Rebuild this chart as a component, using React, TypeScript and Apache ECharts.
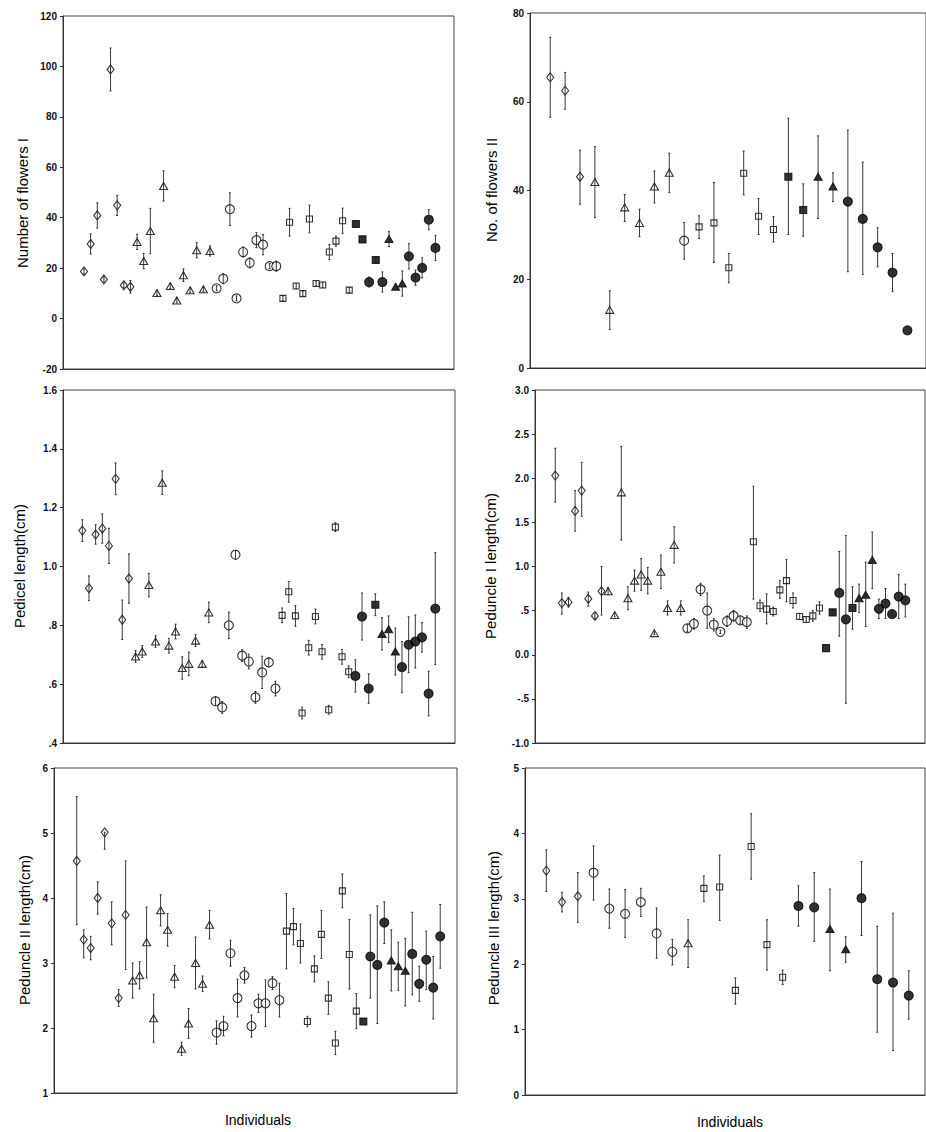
import React, { useEffect, useRef } from "react";
import * as echarts from "echarts";

// Marker codes: D open diamond, T open triangle, C open circle, S open square,
// s filled square, t filled triangle, c filled circle

// Panel 1: Number of flowers I
const p1Mean = [18.7, 29.6, 40.9, 15.5, 98.8, 44.9, 13.2, 12.6,
  30.4, 22.8, 34.7, 10.1, 52.6, 12.9, 7.2, 17.2, 11.2, 27.1, 11.6, 26.8,
  12.0, 15.8, 43.4, 8.0, 26.4, 22.1, 31.1, 29.3, 20.8, 20.8,
  8.0, 38.2, 12.9, 9.9, 39.5, 13.9, 13.3, 26.4, 30.7, 38.8, 11.3,
  37.5, 31.4, 14.5, 23.2, 14.5, 31.6, 12.6, 13.9, 24.7, 16.2, 20.1, 39.2, 28.0];
const p1Err = [1, 4, 5, 1, 8.5, 4, 1, 2.5,
  3, 3, 9, 1, 6, 1, 1, 2.5, 1, 3, 1, 2,
  1, 2, 6.5, 1, 2, 2, 3, 4, 1, 2,
  1, 5.5, 1, 1, 5.5, 1, 1, 3, 2, 5, 1,
  1, 1, 2, 1, 4, 3, 1, 5, 5, 3, 4, 4, 5];
const p1Type = "DDDDDDDDTTTTTTTTTTTTCCCCCCCCCCSSSSSSSSSSSsscsctttccccc";

// Panel 2: No. of flowers II
const p2Mean = [65.5, 62.5, 43.1, 41.9, 13.1, 36.2, 32.7, 40.9, 44.0, 28.7, 31.8, 32.7, 22.6,
  43.9, 34.2, 31.2, 43.1, 35.6, 43.1, 40.9, 37.5, 33.6, 27.2, 21.5, 8.5];
const p2Hi = [74.5, 66.6, 49.1, 49.9, 17.4, 39.1, 35.8, 44.4, 48.4, 32.8, 34.3, 41.8, 25.8,
  48.9, 38.2, 34.1, 56.3, 41.5, 52.3, 44.0, 53.6, 46.4, 31.6, 25.8, 8.5];
const p2Lo = [56.5, 58.3, 36.9, 33.9, 8.7, 33.0, 29.6, 37.2, 39.5, 24.5, 29.2, 23.8, 19.2,
  39.0, 30.1, 28.4, 30.1, 29.7, 33.7, 37.5, 21.7, 21.1, 22.8, 17.2, 8.5];
const p2Type = "DDDTTTTTTCSSSSSSssttccccc";

// Panel 3: Pedicel length (cm)
const p3Mean = [1.122, 0.926, 1.109, 1.129, 1.07, 1.298, 0.819, 0.959,
  0.694, 0.711, 0.937, 0.745, 1.285, 0.731, 0.779, 0.655, 0.669, 0.748, 0.669, 0.844,
  0.542, 0.521, 0.8, 1.04, 0.697, 0.677, 0.555, 0.64, 0.674, 0.585,
  0.834, 0.914, 0.832, 0.502, 0.724, 0.83, 0.71, 0.513, 1.134, 0.693, 0.642,
  0.628, 0.83, 0.585, 0.87, 0.771, 0.787, 0.711, 0.658, 0.734, 0.745, 0.759, 0.568, 0.857];
const p3Err = [0.037, 0.042, 0.033, 0.05, 0.06, 0.054, 0.067, 0.084,
  0.02, 0.02, 0.04, 0.02, 0.04, 0.025, 0.025, 0.038, 0.04, 0.02, 0.01, 0.035,
  0.015, 0.02, 0.045, 0.015, 0.02, 0.025, 0.02, 0.055, 0.015, 0.025,
  0.025, 0.035, 0.035, 0.02, 0.025, 0.025, 0.025, 0.015, 0.015, 0.025, 0.02,
  0.055, 0.08, 0.05, 0.037, 0.055, 0.045, 0.08, 0.087, 0.095, 0.09, 0.05, 0.076, 0.19];
const p3Type = "DDDDDDDDTTTTTTTTTTTTCCCCCCCCCCSSSSSSSSSSScccstttcccccc";

// Panel 4: Peduncle I length (cm)
const p4Mean = [2.03, 0.585, 0.596, 1.63, 1.86, 0.634, 0.44, 0.72,
  0.72, 0.45, 1.84, 0.64, 0.84, 0.91, 0.84, 0.245, 0.94, 0.53, 1.245, 0.53,
  0.3, 0.35, 0.74, 0.5, 0.34, 0.26, 0.38, 0.44, 0.39, 0.37,
  1.28, 0.555, 0.517, 0.49, 0.735, 0.84, 0.615, 0.434, 0.4, 0.44, 0.53,
  0.075, 0.48, 0.7, 0.4, 0.53, 0.64, 0.68, 1.075, 0.52, 0.58, 0.46, 0.66, 0.615];
const p4Hi = [2.34, 0.7, 0.65, 1.86, 2.18, 0.71, 0.47, 1.0,
  0.76, 0.47, 2.36, 0.77, 0.96, 1.09, 0.99, 0.26, 1.13, 0.61, 1.45, 0.61,
  0.34, 0.41, 0.81, 0.7, 0.41, 0.28, 0.44, 0.5, 0.43, 0.44,
  1.91, 0.62, 0.69, 0.54, 0.84, 1.08, 0.7, 0.47, 0.42, 0.5, 0.6,
  0.075, 0.5, 1.17, 1.35, 0.77, 0.8, 1.05, 1.39, 0.63, 0.75, 0.48, 0.91, 0.8];
const p4Lo = [1.73, 0.46, 0.54, 1.4, 1.57, 0.55, 0.41, 0.45,
  0.68, 0.43, 1.3, 0.51, 0.72, 0.73, 0.69, 0.23, 0.75, 0.45, 1.04, 0.45,
  0.26, 0.29, 0.67, 0.3, 0.27, 0.24, 0.32, 0.38, 0.35, 0.3,
  0.63, 0.49, 0.35, 0.44, 0.64, 0.6, 0.53, 0.4, 0.38, 0.38, 0.46,
  0.075, 0.46, 0.21, -0.55, 0.29, 0.48, 0.32, 0.75, 0.41, 0.41, 0.44, 0.41, 0.43];
const p4Type = "DDDDDDDDTTTTTTTTTTTTCCCCCCCCCCSSSSSSSSSSSsscc stttccccc".replace(" ", "");

// Panel 5: Peduncle II length (cm)
const p5Mean = [4.57, 3.36, 3.23, 4.0, 5.01, 3.61, 2.46, 3.74,
  2.73, 2.81, 3.32, 2.15, 3.81, 3.51, 2.79, 1.68, 2.07, 3.0, 2.68, 3.59,
  1.93, 2.03, 3.15, 2.46, 2.81, 2.03, 2.38, 2.38, 2.69, 2.43,
  3.49, 3.56, 3.3, 2.1, 2.91, 3.44, 2.46, 1.77, 4.11, 3.13, 2.26,
  2.1, 3.1, 2.97, 3.62, 3.04, 2.95, 2.88, 3.14, 2.68, 3.05, 2.62, 3.41];
const p5Hi = [5.56, 3.51, 3.41, 4.25, 5.01, 3.94, 2.59, 4.57,
  3.0, 3.02, 3.86, 2.52, 4.05, 3.76, 2.96, 1.78, 2.3, 3.4, 2.8, 3.81,
  2.11, 2.18, 3.35, 2.75, 2.93, 2.2, 2.52, 2.74, 2.79, 2.69,
  4.07, 3.84, 3.6, 2.18, 3.11, 3.81, 2.71, 1.95, 4.37, 3.67, 2.53,
  2.1, 3.74, 3.88, 3.94, 3.51, 3.32, 3.38, 3.78, 2.95, 3.49, 3.1, 3.9];
const p5Lo = [3.59, 3.08, 3.05, 3.75, 4.75, 3.28, 2.33, 2.9,
  2.46, 2.6, 2.77, 1.78, 3.57, 3.26, 2.62, 1.58, 1.84, 2.6, 2.56, 3.37,
  1.75, 1.88, 2.95, 2.17, 2.69, 1.86, 2.24, 2.02, 2.59, 2.17,
  2.91, 3.28, 3.0, 2.02, 2.71, 3.07, 2.21, 1.59, 3.85, 2.6, 1.99,
  2.1, 2.46, 2.07, 3.3, 2.57, 2.58, 2.34, 2.51, 2.41, 2.59, 2.14, 2.92];
const p5Type = "DDDDDDDDTTTTTTTTTTTTCCCCCCCCCCSSSSSSSSSSSsccctttccccc";

// Panel 6: Peduncle III length (cm)
const p6Mean = [3.43, 2.95, 3.04, 3.4, 2.85, 2.77, 2.95, 2.47, 2.19, 2.32, 3.16, 3.18,
  1.6, 3.8, 2.3, 1.8, 2.89, 2.87, 2.54, 2.23, 3.01, 1.77, 1.72, 1.52];
const p6Hi = [3.75, 3.1, 3.4, 3.81, 3.15, 3.14, 3.16, 2.86, 2.38, 2.68, 3.35, 3.67,
  1.79, 4.3, 2.68, 1.91, 3.2, 3.4, 3.15, 2.42, 3.57, 2.58, 2.78, 1.9];
const p6Lo = [3.11, 2.8, 2.64, 2.98, 2.55, 2.41, 2.73, 2.09, 1.99, 1.95, 2.96, 2.67,
  1.39, 3.3, 1.91, 1.69, 2.58, 2.35, 1.9, 2.03, 2.44, 0.96, 0.68, 1.16];
const p6Type = "DDDCCCCCCTSSSSSSccttcccc";

const yTitles = [
  "Number of flowers I",
  "No. of flowers II",
  "Pedicel length(cm)",
  "Peduncle I length(cm)",
  "Peduncle II length(cm)",
  "Peduncle III length(cm)",
];
const xTitle = "Individuals";

const FONT = "'Liberation Sans', Arial, sans-serif";

const SYM: Record<string, { symbol: string; size: number | number[]; fill: boolean }> = {
  D: { symbol: "diamond", size: [7, 9], fill: false },
  T: { symbol: "triangle", size: [8, 7], fill: false },
  C: { symbol: "circle", size: 9, fill: false },
  S: { symbol: "rect", size: 6, fill: false },
  s: { symbol: "rect", size: 7, fill: true },
  t: { symbol: "triangle", size: [8, 7], fill: true },
  c: { symbol: "circle", size: 9, fill: true },
};

function spssLabel(v: number, digits: number) {
  if (digits === 0) return String(Math.round(v));
  if (Math.abs(v) < 1e-9) return (0).toFixed(digits);
  let s = Math.abs(v).toFixed(digits);
  if (Math.abs(v) < 1) s = s.replace(/^0/, "");
  return (v < 0 ? "-" : "") + s;
}

export default function App() {
  const ref = useRef<HTMLDivElement>(null);
  useEffect(() => {
    document.body.style.margin = "0";
    if (!ref.current) return;
    const chart = echarts.init(ref.current, undefined, { renderer: "svg" });

    const panels = [
      { mean: p1Mean, lo: p1Mean.map((m, i) => m - p1Err[i]), hi: p1Mean.map((m, i) => m + p1Err[i]), type: p1Type,
        grid: { left: 63, top: 16, width: 391, height: 353 }, x: [-3.17, 55.8], y: [-20, 120, 20], d: 0 },
      { mean: p2Mean, lo: p2Lo, hi: p2Hi, type: p2Type,
        grid: { left: 530, top: 13, width: 396, height: 355 }, x: [-1.36, 25.25], y: [0, 80, 20], d: 0 },
      { mean: p3Mean, lo: p3Mean.map((m, i) => m - p3Err[i]), hi: p3Mean.map((m, i) => m + p3Err[i]), type: p3Type,
        grid: { left: 63, top: 390, width: 392, height: 353 }, x: [-2.9, 55.96], y: [0.4, 1.6, 0.2], d: 1 },
      { mean: p4Mean, lo: p4Lo, hi: p4Hi, type: p4Type,
        grid: { left: 535, top: 390, width: 390, height: 353 }, x: [-3.07, 55.98], y: [-1, 3, 0.5], d: 1 },
      { mean: p5Mean, lo: p5Lo, hi: p5Hi, type: p5Type,
        grid: { left: 54, top: 768, width: 403, height: 325 }, x: [-3.25, 54.4], y: [1, 6, 1], d: 0 },
      { mean: p6Mean, lo: p6Lo, hi: p6Hi, type: p6Type,
        grid: { left: 525, top: 768, width: 400, height: 327 }, x: [-1.35, 24.03], y: [0, 5, 1], d: 0 },
    ];

    const grid: any[] = [];
    const xAxis: any[] = [];
    const yAxis: any[] = [];
    const series: any[] = [];

    panels.forEach((p, k) => {
      grid.push({ ...p.grid, show: true, borderColor: "#444", borderWidth: 1, backgroundColor: "#fff" });
      xAxis.push({
        gridIndex: k, type: "value", min: p.x[0], max: p.x[1],
        axisLine: { show: true, onZero: false, lineStyle: { color: "#333", width: 1 } },
        axisTick: { show: false }, axisLabel: { show: false }, splitLine: { show: false },
      });
      yAxis.push({
        gridIndex: k, type: "value", min: p.y[0], max: p.y[1], interval: p.y[2],
        axisLine: { show: true, onZero: false, lineStyle: { color: "#333", width: 1 } },
        axisTick: { show: true, inside: false, length: 3, lineStyle: { color: "#333" } },
        splitLine: { show: false },
        axisLabel: {
          fontSize: 10, fontWeight: "bold", color: "#111", fontFamily: FONT, margin: 6,
          formatter: (v: number) => spssLabel(v, p.d),
        },
      });
      const points = p.mean.map((m, i) => {
        const s = SYM[p.type[i]];
        return {
          value: [i, m],
          symbol: s.symbol,
          symbolSize: s.size,
          itemStyle: { color: s.fill ? "#000" : "#fff", borderColor: "#000", borderWidth: 1.1 },
        };
      });
      series.push({
        type: "scatter", xAxisIndex: k, yAxisIndex: k, data: points, z: 3, silent: true,
      });
      series.push({
        type: "custom", xAxisIndex: k, yAxisIndex: k, z: 4, silent: true,
        data: p.mean.map((m, i) => [i, p.lo[i], p.hi[i]]),
        encode: { x: 0, y: [1, 2] },
        renderItem: (params: any, api: any) => {
          const x = api.value(0);
          const a = api.coord([x, api.value(1)]);
          const b = api.coord([x, api.value(2)]);
          if (Math.abs(a[1] - b[1]) < 0.5) return { type: "group", children: [] };
          const st = { stroke: "#222", lineWidth: 0.9 };
          return {
            type: "group",
            children: [
              { type: "line", shape: { x1: a[0], y1: a[1], x2: b[0], y2: b[1] }, style: st },
              { type: "line", shape: { x1: a[0] - 1, y1: a[1], x2: a[0] + 1, y2: a[1] }, style: st },
              { type: "line", shape: { x1: b[0] - 1, y1: b[1], x2: b[0] + 1, y2: b[1] }, style: st },
            ],
          };
        },
      });
    });

    const titlePos = [
      [22, 203], [491, 190], [19, 566], [490, 566], [24, 930], [493, 928],
    ];
    const graphic: any[] = yTitles.map((t, k) => ({
      type: "text", x: titlePos[k][0], y: titlePos[k][1], rotation: Math.PI / 2,
      style: { text: t, fontSize: 15, fontFamily: FONT, fill: "#000", align: "center", verticalAlign: "middle" },
    }));
    graphic.push({ type: "text", x: 258, y: 1120, style: { text: xTitle, fontSize: 14, fontFamily: FONT, fill: "#000", align: "center", verticalAlign: "middle" } });
    graphic.push({ type: "text", x: 730, y: 1122, style: { text: xTitle, fontSize: 14, fontFamily: FONT, fill: "#000", align: "center", verticalAlign: "middle" } });

    chart.setOption({
      animation: false,
      backgroundColor: "#fff",
      grid, xAxis, yAxis, series, graphic,
    });
    return () => chart.dispose();
  }, []);
  return <div ref={ref} style={{ width: 926, height: 1132 }} />;
}
